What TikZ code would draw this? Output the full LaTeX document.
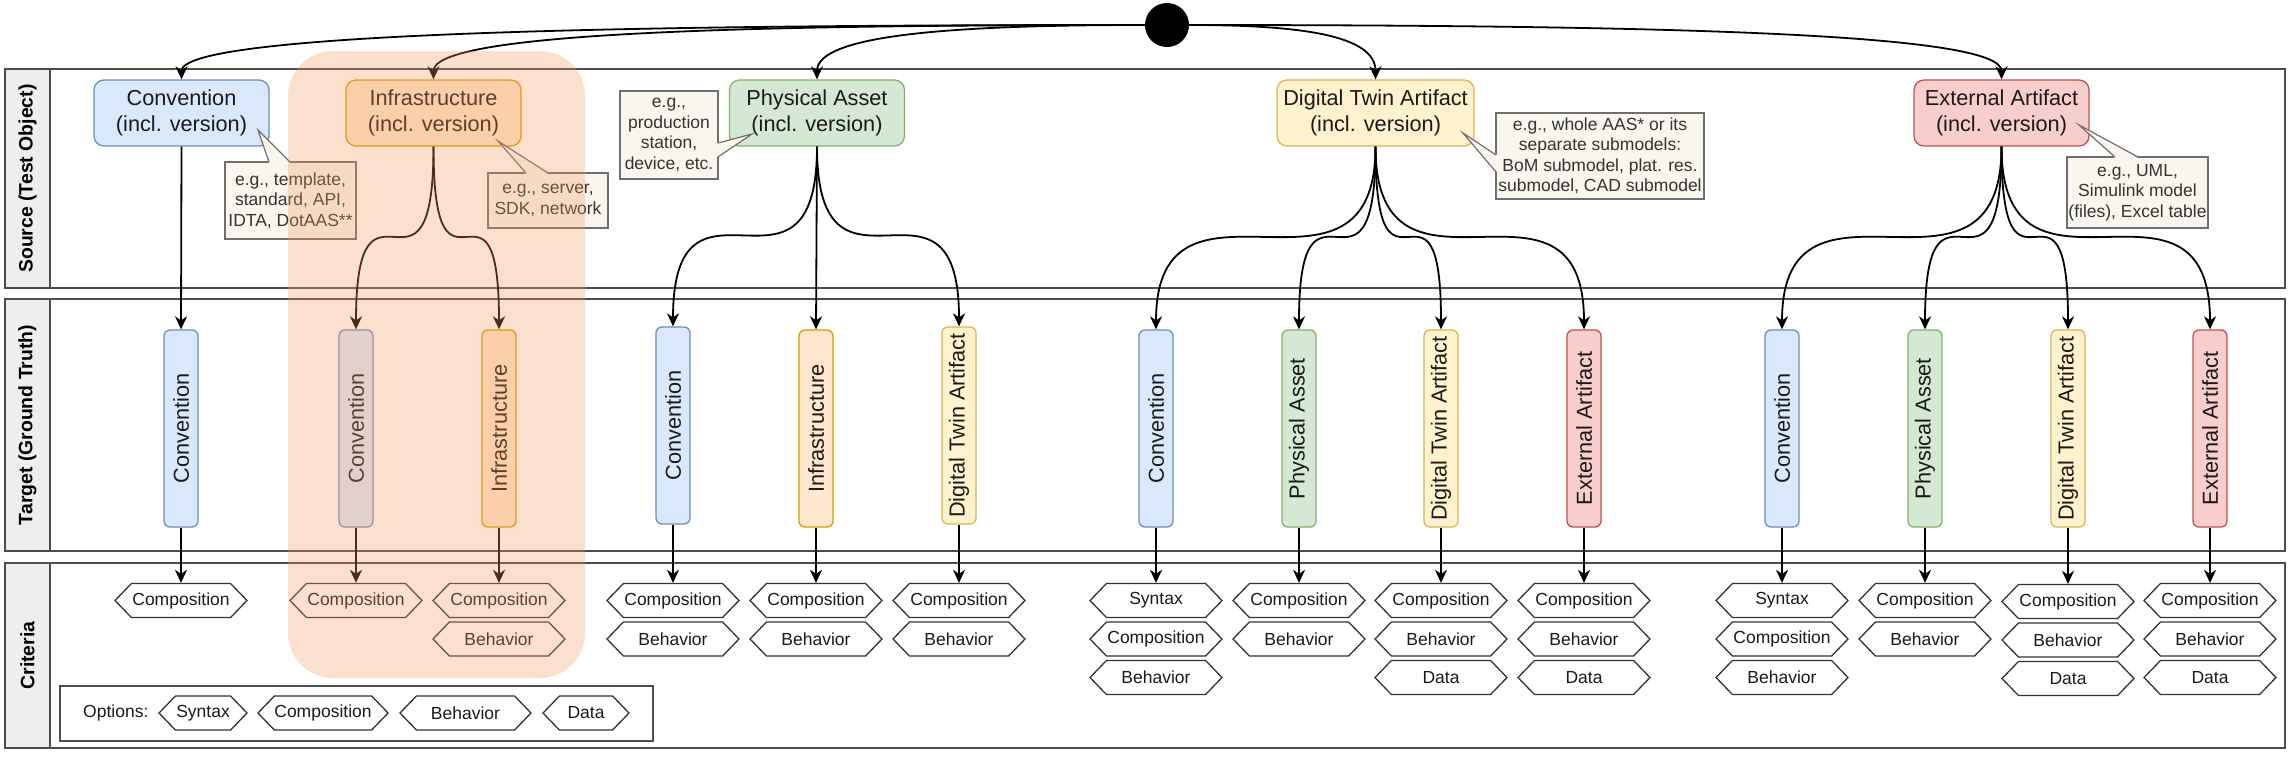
\documentclass[tikz,border=0pt]{standalone}
\usepackage{fontspec}
\setmainfont{Liberation Sans}
\usetikzlibrary{shapes.symbols,arrows.meta}

\definecolor{bfill}{HTML}{DAE8FC}\definecolor{bdraw}{HTML}{6C8EBF}
\definecolor{ofill}{HTML}{FFE6CC}\definecolor{odraw}{HTML}{D79B00}
\definecolor{gfill}{HTML}{D5E8D4}\definecolor{gdraw}{HTML}{82B366}
\definecolor{yfill}{HTML}{FFF2CC}\definecolor{ydraw}{HTML}{D6B656}
\definecolor{rfill}{HTML}{F8CECC}\definecolor{rdraw}{HTML}{B85450}
\definecolor{nfill}{HTML}{F9F7ED}\definecolor{ndraw}{HTML}{6E6E6E}
\definecolor{lanedraw}{HTML}{4D4D4D}\definecolor{headfill}{HTML}{EEEEEE}
\definecolor{hexdraw}{HTML}{333333}\definecolor{txt}{HTML}{1A1A1A}
\definecolor{ntxt}{HTML}{333333}\definecolor{hlcol}{HTML}{F29A5E}

\newcommand\boxfont{\fontsize{21.7}{26}\selectfont}
\newcommand\notefont{\fontsize{17.5}{20.5}\selectfont}
\newcommand\hexfont{\fontsize{17.5}{20}\selectfont}
\newcommand\headfont{\fontsize{19.4}{23}\selectfont\bfseries}
\newcommand\scurve[2]{\draw[edge] (#1.south) .. controls (#1.south |- #2.north) and (#2.north |- #1.south) .. (#2.north);}
\newcommand\vtext[1]{\rotatebox{90}{#1}}

\tikzset{
  lane/.style={draw=lanedraw, line width=1.3pt},
  srcbox/.style={rounded corners=10pt, line width=1.3pt, minimum width=175pt, minimum height=66pt,
    align=center, font=\boxfont, text=txt, inner sep=0pt},
  tgtbox/.style={rounded corners=6pt, line width=1.3pt, minimum width=34pt, minimum height=197pt,
    font=\boxfont, text=txt, inner sep=0pt},
  bluebox/.style={fill=bfill, draw=bdraw},
  orangebox/.style={fill=ofill, draw=odraw},
  greenbox/.style={fill=gfill, draw=gdraw},
  yellowbox/.style={fill=yfill, draw=ydraw},
  redbox/.style={fill=rfill, draw=rdraw},
  notebox/.style={fill=nfill, draw=ndraw, line width=1.2pt, align=center, font=\notefont, text=ntxt, inner sep=1pt},
  pointer/.style={draw=ndraw, line width=1.2pt},
  hexa/.style={shape=signal, signal to=east and west, signal pointer angle=92, draw=hexdraw, fill=white,
    line width=1.3pt, minimum width=132pt, minimum height=34pt, inner sep=0pt, font=\hexfont, text=txt},
  edge/.style={line width=1.8pt, -{Stealth[length=13pt,width=12pt,inset=4pt]}},
}

\begin{document}
\begin{tikzpicture}[x=1pt,y=-1pt]
\useasboundingbox (0,0) rectangle (2288,756);

% ---------- swimlanes ----------
\draw[lane] (5,69) rectangle (2285,288);
\draw[lane, fill=headfill] (5,69) rectangle (50,288);
\node[font=\headfont] (hSrc) at (27.5,178.5) {\vtext{Source (Test Object)}};
\draw[lane] (5,299) rectangle (2285,551);
\draw[lane, fill=headfill] (5,299) rectangle (50,551);
\node[font=\headfont] (hTgt) at (27.5,425) {\vtext{Target (Ground Truth)}};
\draw[lane] (5,563) rectangle (2285,748);
\draw[lane, fill=headfill] (5,563) rectangle (50,748);
\node[font=\headfont] (hCrit) at (27.5,655.5) {\vtext{Criteria}};

% ---------- start dot ----------
\node[circle, fill=black, minimum size=44pt, inner sep=0pt] (dot) at (1167,25) {};

% ---------- source objects ----------
\node[srcbox, bluebox] (sConv) at (181.5,113) {Convention\\(incl. version)};
\node[srcbox, orangebox] (sInfra) at (433.5,113) {Infrastructure\\(incl. version)};
\node[srcbox, greenbox] (sPhys) at (817,113) {Physical Asset\\(incl. version)};
\node[srcbox, yellowbox, minimum width=197pt] (sDTA) at (1375.5,113) {Digital Twin Artifact\\(incl. version)};
\node[srcbox, redbox] (sExt) at (2001.5,113) {External Artifact\\(incl. version)};

% ---------- notes ----------
\node[notebox, minimum width=131pt, minimum height=77pt] (nConv) at (290.5,200.5) {e.g., template,\\standard, API,\\IDTA, DotAAS**};
\fill[nfill] (269,163) -- (258,130) -- (290,163) -- cycle;
\draw[pointer] (269,162) -- (258,130) -- (290,162);

\node[notebox, minimum width=120pt, minimum height=55pt] (nInfra) at (548,200.5) {e.g., server,\\SDK, network};
\fill[nfill] (526,174) -- (498,141) -- (548,174) -- cycle;
\draw[pointer] (526,173) -- (498,141) -- (548,173);

\node[notebox, minimum width=98pt, minimum height=88pt] (nPhys) at (669,135) {e.g.,\\production\\station,\\device, etc.};
\fill[nfill] (717,143) -- (752,134) -- (717,157) -- cycle;
\draw[pointer] (718,143) -- (752,134) -- (718,157);

\node[notebox, minimum width=208pt, minimum height=86pt] (nDTA) at (1600,156) {e.g., whole AAS* or its\\separate submodels:\\BoM submodel, plat. res.\\submodel, CAD submodel};
\fill[nfill] (1497,155) -- (1463,133) -- (1497,172) -- cycle;
\draw[pointer] (1496,155) -- (1463,133) -- (1496,172);

\node[notebox, minimum width=141pt, minimum height=71pt] (nExt) at (2137.5,192.5) {e.g., UML,\\Simulink model\\(files), Excel table};
\fill[nfill] (2115,158) -- (2079,125) -- (2138,158) -- cycle;
\draw[pointer] (2115,157) -- (2079,125) -- (2138,157);

% ---------- targets ----------
\node[tgtbox, bluebox]   (t1)  at (181,428.5)  {\vtext{Convention}};
\node[tgtbox, bluebox]   (t2)  at (356,428.5)  {\vtext{Convention}};
\node[tgtbox, orangebox] (t3)  at (499,428.5)  {\vtext{Infrastructure}};
\node[tgtbox, bluebox]   (t4)  at (673,425.5)  {\vtext{Convention}};
\node[tgtbox, orangebox] (t5)  at (816,428.5)  {\vtext{Infrastructure}};
\node[tgtbox, yellowbox] (t6)  at (959,425.5)  {\vtext{Digital Twin Artifact}};
\node[tgtbox, bluebox]   (t7)  at (1156,428.5) {\vtext{Convention}};
\node[tgtbox, greenbox]  (t8)  at (1299,428.5) {\vtext{Physical Asset}};
\node[tgtbox, yellowbox] (t9)  at (1441,428.5) {\vtext{Digital Twin Artifact}};
\node[tgtbox, redbox]    (t10) at (1584,428.5) {\vtext{External Artifact}};
\node[tgtbox, bluebox]   (t11) at (1782,428.5) {\vtext{Convention}};
\node[tgtbox, greenbox]  (t12) at (1925,428.5) {\vtext{Physical Asset}};
\node[tgtbox, yellowbox] (t13) at (2068,428.5) {\vtext{Digital Twin Artifact}};
\node[tgtbox, redbox]    (t14) at (2210,428.5) {\vtext{External Artifact}};

% ---------- criteria ----------
\node[hexa] (c1a) at (181,600.5) {Composition};
\node[hexa] (c2a) at (356,600.5) {Composition};
\node[hexa] (c3a) at (499,600.5) {Composition};
\node[hexa] (c3b) at (499,639) {Behavior};
\node[hexa] (c4a) at (673,600.5) {Composition};
\node[hexa] (c4b) at (673,639) {Behavior};
\node[hexa] (c5a) at (816,600.5) {Composition};
\node[hexa] (c5b) at (816,639) {Behavior};
\node[hexa] (c6a) at (959,600.5) {Composition};
\node[hexa] (c6b) at (959,639) {Behavior};
\node[hexa] (c7a) at (1156,600.5) {Syntax};
\node[hexa] (c7b) at (1156,639) {Composition};
\node[hexa] (c7c) at (1156,677.5) {Behavior};
\node[hexa] (c8a) at (1299,600.5) {Composition};
\node[hexa] (c8b) at (1299,639) {Behavior};
\node[hexa] (c9a) at (1441,600.5) {Composition};
\node[hexa] (c9b) at (1441,639) {Behavior};
\node[hexa] (c9c) at (1441,677.5) {Data};
\node[hexa] (c10a) at (1584,600.5) {Composition};
\node[hexa] (c10b) at (1584,639) {Behavior};
\node[hexa] (c10c) at (1584,677.5) {Data};
\node[hexa] (c11a) at (1782,600.5) {Syntax};
\node[hexa] (c11b) at (1782,639) {Composition};
\node[hexa] (c11c) at (1782,677.5) {Behavior};
\node[hexa] (c12a) at (1925,600.5) {Composition};
\node[hexa] (c12b) at (1925,639) {Behavior};
\node[hexa] (c13a) at (2068,601.5) {Composition};
\node[hexa] (c13b) at (2068,640) {Behavior};
\node[hexa] (c13c) at (2068,678.5) {Data};
\node[hexa] (c14a) at (2210,600.5) {Composition};
\node[hexa] (c14b) at (2210,639) {Behavior};
\node[hexa] (c14c) at (2210,677.5) {Data};

% ---------- options legend ----------
\node[draw=lanedraw, line width=1.3pt, minimum width=593pt, minimum height=55pt, inner sep=0pt] (opts) at (356.5,713.5) {};
\node[anchor=west, font=\hexfont, text=txt, inner sep=0pt] (optlbl) at (83,713) {Options:};
\node[hexa, minimum width=88pt] (oSyn) at (203,713) {Syntax};
\node[hexa, minimum width=130pt] (oComp) at (323,713) {Composition};
\node[hexa, minimum width=131pt] (oBeh) at (465.5,713) {Behavior};
\node[hexa, minimum width=86pt] (oData) at (586,713) {Data};

% ---------- connectors: dot -> sources ----------
\draw[edge] (dot) .. controls (700,25) and (181.5,30) .. (sConv.north);
\draw[edge] (dot) .. controls (750,25) and (433.5,32) .. (sInfra.north);
\draw[edge] (dot) .. controls (950,25) and (817,35) .. (sPhys.north);
\draw[edge] (dot) .. controls (1300,25) and (1375.5,35) .. (sDTA.north);
\draw[edge] (dot) .. controls (1700,25) and (2001.5,35) .. (sExt.north);

% ---------- connectors: sources -> targets ----------
\draw[edge] (sConv.south) -- (t1.north);
\scurve{sInfra}{t2}
\scurve{sInfra}{t3}
\scurve{sPhys}{t4}
\draw[edge] (sPhys.south) -- (t5.north);
\scurve{sPhys}{t6}
\scurve{sDTA}{t7}
\scurve{sDTA}{t8}
\scurve{sDTA}{t9}
\scurve{sDTA}{t10}
\scurve{sExt}{t11}
\scurve{sExt}{t12}
\scurve{sExt}{t13}
\scurve{sExt}{t14}

% ---------- connectors: targets -> criteria ----------
\draw[edge] (t1.south) -- (c1a.north);
\draw[edge] (t2.south) -- (c2a.north);
\draw[edge] (t3.south) -- (c3a.north);
\draw[edge] (t4.south) -- (c4a.north);
\draw[edge] (t5.south) -- (c5a.north);
\draw[edge] (t6.south) -- (c6a.north);
\draw[edge] (t7.south) -- (c7a.north);
\draw[edge] (t8.south) -- (c8a.north);
\draw[edge] (t9.south) -- (c9a.north);
\draw[edge] (t10.south) -- (c10a.north);
\draw[edge] (t11.south) -- (c11a.north);
\draw[edge] (t12.south) -- (c12a.north);
\draw[edge] (t13.south) -- (c13a.north);
\draw[edge] (t14.south) -- (c14a.north);

% ---------- highlight overlay ----------
\fill[hlcol, opacity=0.3, rounded corners=45pt] (288,51) rectangle (585,678);
\end{tikzpicture}
\end{document}
